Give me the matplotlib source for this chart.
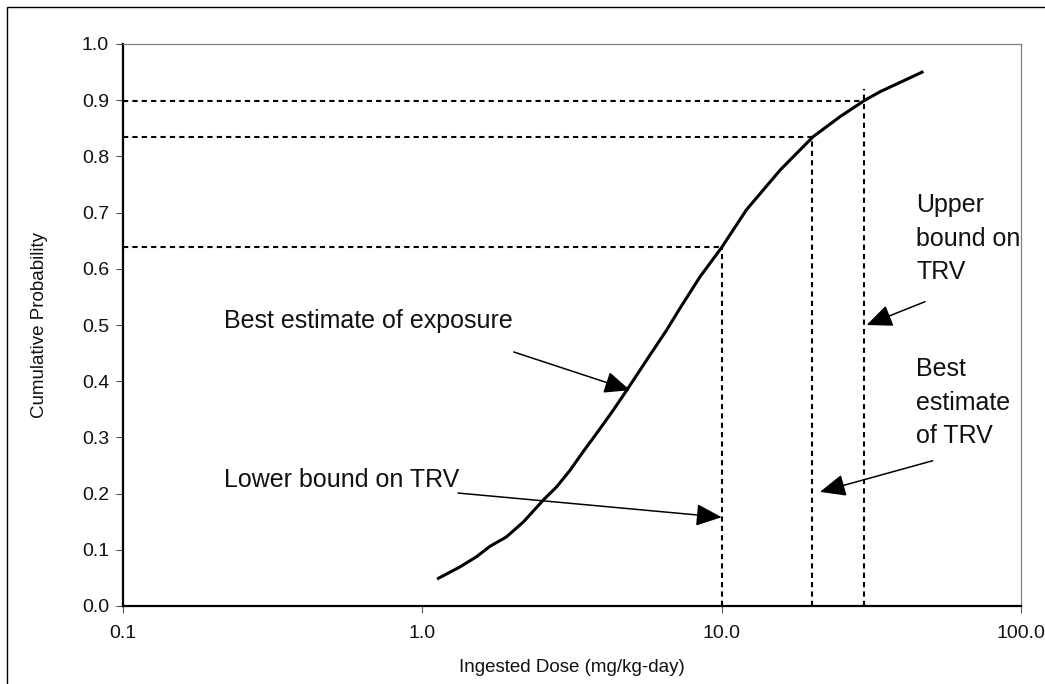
import matplotlib
matplotlib.use("Agg")
import matplotlib.pyplot as plt
from matplotlib.patches import Rectangle

plt.rcParams['font.family'] = ['Liberation Sans', 'DejaVu Sans']

# cumulative distribution of ingested dose
dose = [1.12, 1.34, 1.52, 1.68, 1.91, 2.18, 2.54, 2.81, 3.12, 3.45, 3.82, 4.35, 4.82,
        5.34, 5.92, 6.55, 7.26, 8.47, 10.0, 12.1, 15.7, 20.2, 24.9, 30.1, 33.8, 47.2]
cum_prob = [0.048, 0.070, 0.088, 0.106, 0.123, 0.150, 0.189, 0.212, 0.242, 0.275, 0.307,
            0.349, 0.384, 0.420, 0.456, 0.491, 0.530, 0.586, 0.638, 0.705, 0.776, 0.835,
            0.871, 0.900, 0.915, 0.951]

# TRV reference lines: lower, best, upper
trv_x = [10.0, 20.0, 30.0]
trv_vtop = [0.638, 0.835, 0.92]
trv_h = [0.638, 0.835, 0.898]

x_ticks = [0.1, 1.0, 10.0, 100.0]
x_ticklabels = ["0.1", "1.0", "10.0", "100.0"]
y_ticks = [0.0, 0.1, 0.2, 0.3, 0.4, 0.5, 0.6, 0.7, 0.8, 0.9, 1.0]

# annotations: text, text pos (last-line baseline), arrow start, arrow tip
notes = [
    ("Best estimate of exposure", (0.2175, 0.494), (2.02, 0.452), (4.94, 0.384)),
    ("Lower bound on TRV", (0.2175, 0.212), (1.316, 0.201), (10.0, 0.158)),
    ("Upper\nbound on\nTRV", (44.6, 0.581), (47.8, 0.5415), (30.5, 0.500)),
    ("Best\nestimate\nof TRV", (44.6, 0.2895), (50.7, 0.2585), (21.3, 0.203)),
]

fig = plt.figure(figsize=(10.45, 6.84), dpi=100)
ax = fig.add_axes([123 / 1045, 1 - 606 / 684, 898 / 1045, 562 / 684])

ax.set_xscale('log')
ax.set_xlim(0.1, 100)
ax.set_ylim(0, 1)

dash = dict(color='black', lw=1.5, dashes=(2.5, 2))
for xv, top, hv in zip(trv_x, trv_vtop, trv_h):
    ax.plot([xv, xv], [0, top], **dash)
    ax.plot([0.1, xv], [hv, hv], **dash)

ax.plot(dose, cum_prob, color='black', lw=2.2, solid_capstyle='butt')

for txt, tpos, start, tip in notes:
    ax.text(tpos[0], tpos[1], txt, fontsize=18, ha='left', va='baseline',
            linespacing=1.5, color='#111111')
    ax.annotate('', xy=tip, xytext=start,
                arrowprops=dict(arrowstyle='-|>,head_length=0.44,head_width=0.19',
                                mutation_scale=36, lw=1.1, color='black',
                                shrinkA=0, shrinkB=0))

ax.set_xticks(x_ticks)
ax.set_xticklabels(x_ticklabels)
ax.xaxis.set_minor_locator(matplotlib.ticker.NullLocator())
ax.set_yticks(y_ticks)
ax.set_yticklabels([f"{v:.1f}" for v in y_ticks])
ax.tick_params(axis='both', direction='out', length=5, width=0.8, color='#555555',
               labelsize=14, labelcolor='#111111')
ax.tick_params(axis='x', pad=9)
ax.tick_params(axis='y', pad=5)

ax.set_xlabel("Ingested Dose (mg/kg-day)", fontsize=13.5, color='#111111')
ax.set_ylabel("Cumulative Probability", fontsize=13.5, color='#111111')
ax.xaxis.set_label_coords(0.5, -0.094)
ax.yaxis.set_label_coords(-0.083, 0.5)

for side in ['left', 'bottom']:
    ax.spines[side].set_color('black')
    ax.spines[side].set_linewidth(1.6)
for side in ['top', 'right']:
    ax.spines[side].set_color('#808080')
    ax.spines[side].set_linewidth(0.9)

# outer chart border (cut off on the right and bottom)
fig.patches.append(Rectangle((6.5 / 1045, -0.1), 1.2, 1.1 - 7 / 684, transform=fig.transFigure,
                             fill=False, edgecolor='black', lw=1.0))

fig.savefig("out.png", dpi=100)
